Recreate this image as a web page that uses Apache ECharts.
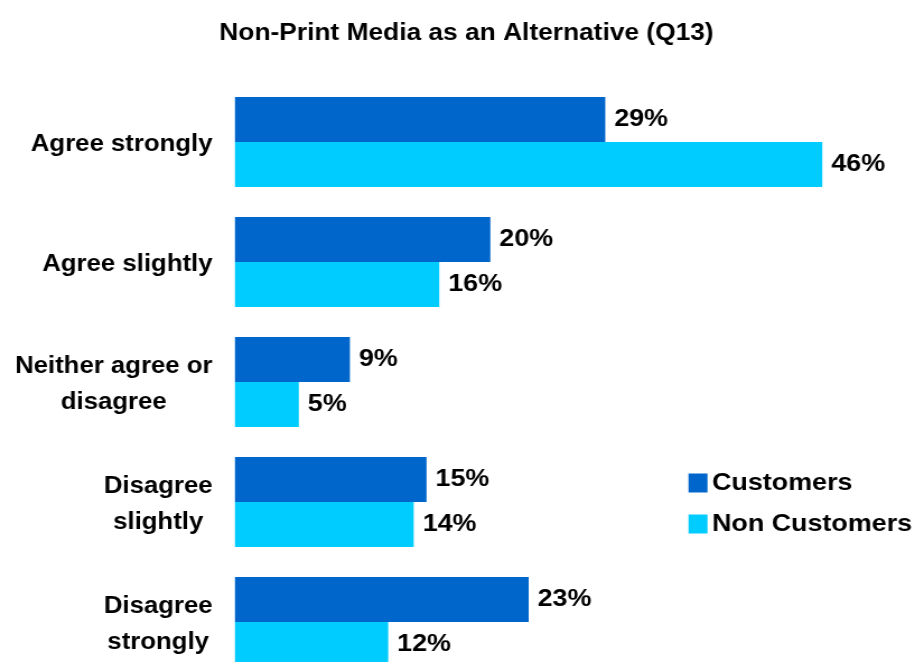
<!DOCTYPE html>
<html>
<head>
<meta charset="utf-8">
<title>Non-Print Media as an Alternative (Q13)</title>
<script src="https://cdn.jsdelivr.net/npm/echarts@6/dist/echarts.min.js"></script>
<style>
  html, body { margin: 0; padding: 0; background: #ffffff; overflow: hidden; }
  #wrap { width: 913px; height: 662px; overflow: hidden; }
  /* the chart is laid out a little narrower and widened, giving the broad lettering;
     it runs past the bottom edge so the last group is cut off */
  #chart { width: 815px; height: 700px; transform: scaleX(1.12); transform-origin: 0 0; }
</style>
</head>
<body>
<div id="wrap"><div id="chart"></div></div>
<script>
const categories = ['Agree strongly', 'Agree slightly', 'Neither agree or\ndisagree', 'Disagree\nslightly', 'Disagree\nstrongly'];
const customers = [29, 20, 9, 15, 23];
const nonCustomers = [46, 16, 5, 14, 12];
const seriesNames = ['Customers', 'Non Customers'];

const FONT = '"Liberation Sans", Arial, Helvetica, sans-serif';

const chart = echarts.init(document.getElementById('chart'), null, { renderer: 'canvas' });

const valueLabel = {
  show: true,
  position: 'right',
  distance: 8,
  formatter: '{c}%',
  fontFamily: FONT,
  fontWeight: 'bold',
  fontSize: 24,
  color: '#000000'
};

chart.setOption({
  backgroundColor: '#ffffff',
  animation: false,
  title: {
    text: 'Non-Print Media as an Alternative (Q13)',
    left: 411.5,
    textAlign: 'center',
    top: 17,
    textStyle: { fontFamily: FONT, fontWeight: 'bold', fontSize: 23.5, color: '#000000' }
  },
  legend: {
    orient: 'vertical',
    left: 609.7,
    top: 466,
    itemWidth: 17,
    itemHeight: 19,
    itemGap: 17,
    icon: 'rect',
    data: seriesNames,
    textStyle: { fontFamily: FONT, fontWeight: 'bold', fontSize: 24, color: '#000000', padding: [0, 0, 0, -1] }
  },
  grid: { left: 209.8, right: 35.2, top: 82, height: 600 },
  xAxis: {
    type: 'value',
    min: 0,
    max: 50,
    show: false
  },
  yAxis: {
    type: 'category',
    inverse: true,
    data: categories,
    axisLine: { show: false },
    axisTick: { show: false },
    splitLine: { show: false },
    axisLabel: {
      margin: 20,
      align: 'right',
      padding: [6, 0, 0, 0],
      formatter: function (v) {
        return v.split('\n').map(function (line) { return '{c|' + line + '}'; }).join('\n');
      },
      rich: {
        c: {
          align: 'center',
          fontFamily: FONT,
          fontWeight: 'bold',
          fontSize: 23,
          lineHeight: 36,
          color: '#000000'
        }
      }
    }
  },
  series: [
    {
      name: seriesNames[0],
      type: 'bar',
      data: customers,
      barWidth: 45,
      barGap: '0%',
      itemStyle: { color: '#0066CC' },
      label: valueLabel
    },
    {
      name: seriesNames[1],
      type: 'bar',
      data: nonCustomers,
      barWidth: 45,
      barGap: '0%',
      itemStyle: { color: '#00CCFF' },
      label: valueLabel
    }
  ]
});
</script>
</body>
</html>
